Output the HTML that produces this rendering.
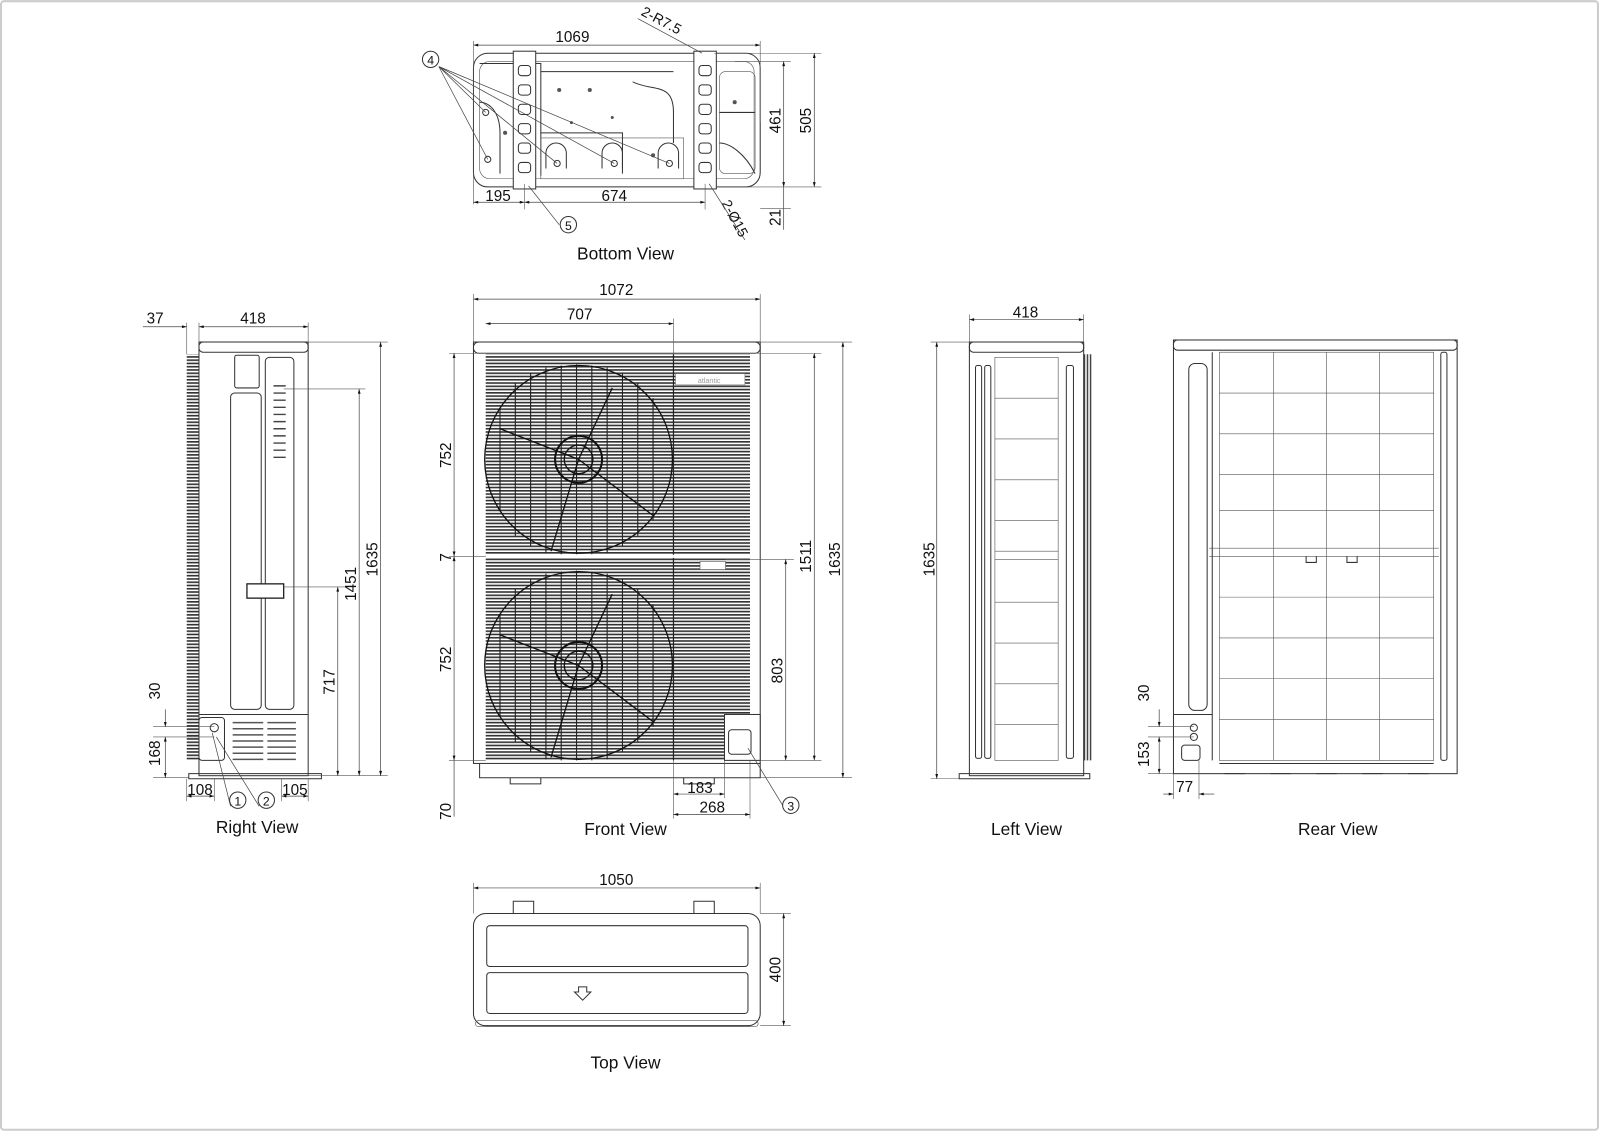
<!DOCTYPE html>
<html><head><meta charset="utf-8"><style>
html,body{margin:0;padding:0;background:#fff;}
svg{display:block;}
text{font-family:"Liberation Sans",sans-serif;fill:#111;}
.l{fill:none;stroke:#333;stroke-width:1;}
.t{fill:none;stroke:#555;stroke-width:.6;}
.d{fill:none;stroke:#444;stroke-width:.7;}
</style></head><body>
<svg width="1600" height="1132" viewBox="0 0 1568 1109" xmlns="http://www.w3.org/2000/svg">
<defs>
<pattern id="gr" width="4" height="3.2" patternUnits="userSpaceOnUse"><rect width="4" height="3.2" fill="#fff"/><rect width="4" height="1.6" fill="#333"/></pattern>
<pattern id="vs" width="3" height="4" patternUnits="userSpaceOnUse"><rect width="3" height="4" fill="#fff"/><rect width="1.5" height="4" fill="#444"/></pattern>
<marker id="a" viewBox="0 0 10 6" refX="10" refY="3" markerWidth="8" markerHeight="4" orient="auto-start-reverse"><path d="M0,0L10,3L0,6z" fill="#111"/></marker>
</defs>
<rect x="1" y="1" width="1565" height="1106" fill="none" stroke="#ccc" stroke-width="2" rx="3"/>

<!-- ===== BOTTOM VIEW ===== -->
<g>
<rect class="l" x="464" y="52" width="281" height="131" rx="14"/>
<rect class="t" x="470" y="60" width="269" height="115" rx="10"/>
<path class="l" d="M470,62 h60 v110 M530,70 h130 M530,70 v60 h80 v40 M620,80 c20,10 40,0 40,30 v30 M470,100 c10,0 20,10 20,30 v40 M705,110 h35 M705,140 c10,0 25,10 35,30"/>
<rect class="t" x="530" y="135" width="140" height="40"/>
<rect class="t" x="705" y="70" width="35" height="100" rx="6"/>
<g fill="#555"><circle cx="548" cy="88" r="2"/><circle cx="578" cy="88" r="2"/><circle cx="640" cy="152" r="2"/><circle cx="720" cy="100" r="2"/><circle cx="495" cy="130" r="2"/><circle cx="560" cy="120" r="1.5"/><circle cx="600" cy="115" r="1.5"/></g>
<rect x="503" y="50" width="22" height="135" fill="#fff" stroke="#333"/>
<rect x="680" y="50" width="22" height="135" fill="#fff" stroke="#333"/>
<g class="l">
<rect x="508" y="64" width="12" height="10" rx="3"/><rect x="508" y="83" width="12" height="10" rx="3"/><rect x="508" y="102" width="12" height="10" rx="3"/><rect x="508" y="121" width="12" height="10" rx="3"/><rect x="508" y="140" width="12" height="10" rx="3"/><rect x="508" y="159" width="12" height="10" rx="3"/>
<rect x="685" y="64" width="12" height="10" rx="3"/><rect x="685" y="83" width="12" height="10" rx="3"/><rect x="685" y="102" width="12" height="10" rx="3"/><rect x="685" y="121" width="12" height="10" rx="3"/><rect x="685" y="140" width="12" height="10" rx="3"/><rect x="685" y="159" width="12" height="10" rx="3"/>
<path d="M535,165 v-15 a10,10 0 0 1 20,0 v15 M590,165 v-15 a10,10 0 0 1 20,0 v15 M645,165 v-15 a10,10 0 0 1 20,0 v15"/>
<circle cx="478" cy="156" r="3"/><circle cx="546" cy="160" r="3"/><circle cx="602" cy="160" r="3"/><circle cx="656" cy="160" r="3"/><circle cx="476" cy="110" r="3"/>
</g>
<path class="d" d="M430,65 L476,110 M430,65 L478,156 M430,65 L546,160 M430,65 L602,160 M430,65 L656,160"/>
<circle cx="422" cy="58" r="8" fill="#fff" stroke="#333"/><text x="422" y="63" font-size="12" text-anchor="middle">4</text>
<circle cx="557" cy="220" r="8" fill="#fff" stroke="#333"/><text x="557" y="225" font-size="12" text-anchor="middle">5</text>
<path class="d" d="M548,220 L518,182"/>
<line class="d" x1="464" y1="44" x2="745" y2="44" marker-start="url(#a)" marker-end="url(#a)"/>
<line class="t" x1="464" y1="40" x2="464" y2="200"/><line class="t" x1="745" y1="40" x2="745" y2="120"/>
<text x="561" y="41" font-size="15" text-anchor="middle">1069</text>
<line class="d" x1="464" y1="198" x2="514" y2="198" marker-start="url(#a)" marker-end="url(#a)"/>
<line class="d" x1="514" y1="198" x2="691" y2="198" marker-start="url(#a)" marker-end="url(#a)"/>
<line class="t" x1="514" y1="180" x2="514" y2="205"/><line class="t" x1="691" y1="180" x2="691" y2="205"/>
<text x="488" y="197" font-size="15" text-anchor="middle">195</text>
<text x="602" y="197" font-size="15" text-anchor="middle">674</text>
<line class="t" x1="700" y1="52" x2="805" y2="52"/><line class="t" x1="720" y1="60" x2="775" y2="60"/><line class="t" x1="702" y1="183" x2="805" y2="183"/><line class="t" x1="745" y1="204" x2="775" y2="204"/>
<line class="d" x1="798" y1="52" x2="798" y2="183" marker-start="url(#a)" marker-end="url(#a)"/>
<line class="d" x1="768" y1="60" x2="768" y2="183" marker-start="url(#a)" marker-end="url(#a)"/>
<line class="d" x1="768" y1="183" x2="768" y2="225"/>
<text transform="translate(795,118) rotate(-90)" font-size="15" text-anchor="middle">505</text>
<text transform="translate(765,118) rotate(-90)" font-size="15" text-anchor="middle">461</text>
<text transform="translate(765,213) rotate(-90)" font-size="15" text-anchor="middle">21</text>
<text transform="translate(646,24) rotate(28)" font-size="14" text-anchor="middle">2-R7.5</text>
<path class="d" d="M625,18 L688,52"/>
<text transform="translate(716,216) rotate(62)" font-size="14" text-anchor="middle">2-Ø15</text>
<path class="d" d="M730,235 L695,180"/>
<text x="613" y="254" font-size="17" text-anchor="middle">Bottom View</text>
</g>

<!-- ===== FRONT VIEW ===== -->
<g>
<rect class="l" x="464" y="335" width="281" height="413"/>
<rect class="l" x="464" y="335" width="281" height="11" rx="5"/>
<rect x="476" y="347" width="259" height="398" fill="url(#gr)"/>
<g stroke="#222" stroke-width="1.1"><path d="M490,400v100M505,375v150M520,365v170M535,360v182M550,358v185M565,357v186M580,358v185M595,360v182M610,365v170M625,375v150M640,390v120M490,602v100M505,577v150M520,567v170M535,562v182M550,560v185M565,559v186M580,560v185M595,562v182M610,567v170M625,577v150M640,592v120"/></g>
<rect x="662" y="366" width="68" height="11" fill="#fff" stroke="#777" stroke-width=".6"/>
<text x="695" y="375" font-size="7" text-anchor="middle" style="fill:#999">atlantic</text>
<line x1="660" y1="347" x2="660" y2="745" stroke="#222" stroke-width="1.2"/>
<line x1="476" y1="545" x2="735" y2="545" stroke="#fff" stroke-width="3"/>
<rect x="686" y="550" width="25" height="8" fill="#fff" stroke="#555" stroke-width=".6"/>
<g fill="none" stroke="#111" stroke-width="1.3">
<circle cx="567" cy="450" r="92"/><circle cx="567" cy="652" r="92"/>
<circle cx="567" cy="450" r="23" stroke-width="2"/><circle cx="567" cy="652" r="23" stroke-width="2"/><circle cx="567" cy="450" r="14"/><circle cx="567" cy="652" r="14"/>
<path d="M567,450 L600,380 M567,450 L490,420 M567,450 L540,540 M567,450 L640,505"/>
<path d="M567,652 L600,582 M567,652 L490,622 M567,652 L540,742 M567,652 L640,707"/>
</g>
<rect x="710" y="700" width="35" height="45" fill="#fff" stroke="#333"/>
<rect x="714" y="715" width="22" height="24" fill="none" stroke="#333" rx="3"/>
<path class="l" d="M470,748 v14 h275 v-14 M500,762 v6 h30 v-6 M670,762 v6 h30 v-6"/>
<line class="d" x1="464" y1="293" x2="745" y2="293" marker-start="url(#a)" marker-end="url(#a)"/>
<line class="t" x1="464" y1="288" x2="464" y2="335"/><line class="t" x1="745" y1="288" x2="745" y2="335"/>
<text x="604" y="289" font-size="15" text-anchor="middle">1072</text>
<line class="d" x1="476" y1="317" x2="660" y2="317" marker-start="url(#a)" marker-end="url(#a)"/>
<line class="t" x1="660" y1="312" x2="660" y2="347"/>
<text x="568" y="313" font-size="15" text-anchor="middle">707</text>
<line class="t" x1="440" y1="346" x2="476" y2="346"/><line class="t" x1="440" y1="545" x2="476" y2="545"/><line class="t" x1="440" y1="745" x2="476" y2="745"/>
<line class="d" x1="445" y1="346" x2="445" y2="545" marker-start="url(#a)" marker-end="url(#a)"/>
<line class="d" x1="445" y1="545" x2="445" y2="745" marker-start="url(#a)" marker-end="url(#a)"/>
<line class="d" x1="445" y1="745" x2="445" y2="800"/>
<text transform="translate(442,446) rotate(-90)" font-size="15" text-anchor="middle">752</text>
<text transform="translate(442,546) rotate(-90)" font-size="15" text-anchor="middle">7</text>
<text transform="translate(442,646) rotate(-90)" font-size="15" text-anchor="middle">752</text>
<text transform="translate(442,795) rotate(-90)" font-size="15" text-anchor="middle">70</text>
<line class="t" x1="745" y1="335" x2="835" y2="335"/><line class="t" x1="735" y1="346" x2="805" y2="346"/><line class="t" x1="711" y1="548" x2="778" y2="548"/><line class="t" x1="745" y1="745" x2="805" y2="745"/><line class="t" x1="745" y1="762" x2="835" y2="762"/>
<line class="d" x1="826" y1="335" x2="826" y2="762" marker-start="url(#a)" marker-end="url(#a)"/>
<line class="d" x1="798" y1="346" x2="798" y2="745" marker-start="url(#a)" marker-end="url(#a)"/>
<line class="d" x1="770" y1="548" x2="770" y2="745" marker-start="url(#a)" marker-end="url(#a)"/>
<text transform="translate(823,548) rotate(-90)" font-size="15" text-anchor="middle">1635</text>
<text transform="translate(795,545) rotate(-90)" font-size="15" text-anchor="middle">1511</text>
<text transform="translate(767,657) rotate(-90)" font-size="15" text-anchor="middle">803</text>
<line class="t" x1="660" y1="745" x2="660" y2="802"/><line class="t" x1="710" y1="745" x2="710" y2="782"/><line class="t" x1="735" y1="745" x2="735" y2="802"/>
<line class="d" x1="660" y1="778" x2="710" y2="778" marker-start="url(#a)" marker-end="url(#a)"/>
<line class="d" x1="660" y1="798" x2="735" y2="798" marker-start="url(#a)" marker-end="url(#a)"/>
<text x="686" y="777" font-size="15" text-anchor="middle">183</text>
<text x="698" y="796" font-size="15" text-anchor="middle">268</text>
<path class="d" d="M767,789 L733,733"/>
<circle cx="775" cy="789" r="8" fill="#fff" stroke="#333"/><text x="775" y="794" font-size="12" text-anchor="middle">3</text>
<text x="613" y="818" font-size="17" text-anchor="middle">Front View</text>
</g>

<!-- ===== RIGHT VIEW ===== -->
<g>
<rect x="183" y="347" width="12" height="398" fill="url(#gr)"/>
<rect class="l" x="195" y="335" width="107" height="425"/>
<rect class="l" x="195" y="335" width="107" height="10" rx="4"/>
<rect class="l" x="226" y="385" width="30" height="310" rx="4"/>
<rect class="l" x="260" y="350" width="28" height="345" rx="4"/>
<rect class="l" x="230" y="348" width="24" height="32" rx="2"/>
<g stroke="#444" stroke-width="1.4"><path d="M268,378h12M268,385h12M268,392h12M268,399h12M268,406h12M268,413h12M268,420h12M268,427h12M268,434h12M268,441h12M268,448h12"/></g>
<rect x="242" y="572" width="36" height="14" fill="#fff" stroke="#222" stroke-width="1.3"/>
<line class="l" x1="195" y1="700" x2="302" y2="700"/>
<g stroke="#555" stroke-width="1.5"><path d="M228,708h30M262,708h28M228,714h30M262,714h28M228,720h30M262,720h28M228,726h30M262,726h28M228,732h30M262,732h28M228,738h30M262,738h28M228,744h30M262,744h28"/></g>
<rect class="l" x="195" y="703" width="25" height="42" rx="3"/>
<circle class="l" cx="210" cy="713" r="4"/>
<path class="l" d="M185,758 h130 v5 h-130 z"/>
<line class="d" x1="195" y1="320" x2="302" y2="320" marker-start="url(#a)" marker-end="url(#a)"/>
<line class="d" x1="140" y1="320" x2="183" y2="320" marker-end="url(#a)"/>
<line class="t" x1="183" y1="316" x2="183" y2="347"/><line class="t" x1="195" y1="316" x2="195" y2="335"/><line class="t" x1="302" y1="316" x2="302" y2="335"/>
<text x="248" y="317" font-size="15" text-anchor="middle">418</text>
<text x="152" y="317" font-size="15" text-anchor="middle">37</text>
<line class="t" x1="302" y1="335" x2="380" y2="335"/><line class="t" x1="278" y1="381" x2="358" y2="381"/><line class="t" x1="278" y1="575" x2="338" y2="575"/><line class="t" x1="302" y1="760" x2="380" y2="760"/>
<line class="d" x1="373" y1="335" x2="373" y2="760" marker-start="url(#a)" marker-end="url(#a)"/>
<line class="d" x1="352" y1="381" x2="352" y2="760" marker-start="url(#a)" marker-end="url(#a)"/>
<line class="d" x1="331" y1="575" x2="331" y2="760" marker-start="url(#a)" marker-end="url(#a)"/>
<text transform="translate(370,548) rotate(-90)" font-size="15" text-anchor="middle">1635</text>
<text transform="translate(349,572) rotate(-90)" font-size="15" text-anchor="middle">1451</text>
<text transform="translate(328,668) rotate(-90)" font-size="15" text-anchor="middle">717</text>
<line class="t" x1="150" y1="712" x2="210" y2="712"/><line class="t" x1="150" y1="722" x2="210" y2="722"/><line class="t" x1="150" y1="762" x2="185" y2="762"/>
<line class="d" x1="162" y1="695" x2="162" y2="712" marker-end="url(#a)"/>
<line class="d" x1="162" y1="722" x2="162" y2="762" marker-start="url(#a)" marker-end="url(#a)"/>
<text transform="translate(157,677) rotate(-90)" font-size="15" text-anchor="middle">30</text>
<text transform="translate(157,738) rotate(-90)" font-size="15" text-anchor="middle">168</text>
<line class="t" x1="183" y1="763" x2="183" y2="785"/><line class="t" x1="210" y1="763" x2="210" y2="785"/><line class="t" x1="276" y1="763" x2="276" y2="785"/><line class="t" x1="302" y1="763" x2="302" y2="785"/>
<line class="d" x1="183" y1="780" x2="210" y2="780" marker-start="url(#a)" marker-end="url(#a)"/>
<line class="d" x1="276" y1="780" x2="302" y2="780" marker-start="url(#a)" marker-end="url(#a)"/>
<text x="196" y="779" font-size="15" text-anchor="middle">108</text>
<text x="289" y="779" font-size="15" text-anchor="middle">105</text>
<path class="d" d="M226,790 L208,718 M254,790 L212,722"/>
<circle cx="233" cy="784" r="8" fill="#fff" stroke="#333"/><text x="233" y="789" font-size="12" text-anchor="middle">1</text>
<circle cx="261" cy="784" r="8" fill="#fff" stroke="#333"/><text x="261" y="789" font-size="12" text-anchor="middle">2</text>
<text x="252" y="816" font-size="17" text-anchor="middle">Right View</text>
</g>

<!-- ===== LEFT VIEW ===== -->
<g>
<rect x="1062" y="347" width="8" height="398" fill="url(#vs)"/>
<rect class="l" x="950" y="335" width="112" height="425"/>
<rect class="l" x="950" y="335" width="112" height="10" rx="4"/>
<rect class="t" x="975" y="350" width="62" height="395"/>
<g class="t"><path d="M975,390h62M975,430h62M975,470h62M975,510h62M975,540h62M975,548h62M975,590h62M975,630h62M975,670h62M975,710h62"/></g>
<rect class="l" x="956" y="358" width="6" height="385" rx="2"/>
<rect class="l" x="965" y="358" width="6" height="385" rx="2"/>
<rect class="l" x="1045" y="358" width="7" height="385" rx="2"/>
<path class="l" d="M940,758 h128 v5 h-128 z"/>
<line class="d" x1="950" y1="313" x2="1062" y2="313" marker-start="url(#a)" marker-end="url(#a)"/>
<line class="t" x1="950" y1="308" x2="950" y2="335"/><line class="t" x1="1062" y1="308" x2="1062" y2="335"/>
<text x="1005" y="311" font-size="15" text-anchor="middle">418</text>
<line class="t" x1="912" y1="335" x2="950" y2="335"/><line class="t" x1="912" y1="763" x2="940" y2="763"/>
<line class="d" x1="918" y1="335" x2="918" y2="763" marker-start="url(#a)" marker-end="url(#a)"/>
<text transform="translate(916,548) rotate(-90)" font-size="15" text-anchor="middle">1635</text>
<text x="1006" y="818" font-size="17" text-anchor="middle">Left View</text>
</g>

<!-- ===== REAR VIEW ===== -->
<g>
<rect class="l" x="1150" y="333" width="278" height="425"/>
<rect class="l" x="1150" y="333" width="278" height="10" rx="4"/>
<rect class="t" x="1195" y="345" width="210" height="400"/>
<g class="t"><path d="M1248,345v400M1300,345v400M1352,345v400M1195,385h210M1195,425h210M1195,465h210M1195,500h210M1185,537h225M1185,545h225M1195,585h210M1195,625h210M1195,665h210M1195,705h210"/></g>
<rect class="l" x="1165" y="356" width="18" height="340" rx="6"/>
<line class="l" x1="1188" y1="345" x2="1188" y2="745"/>
<line class="l" x1="1150" y1="700" x2="1188" y2="700"/>
<circle class="l" cx="1170" cy="713" r="3.5"/><circle class="l" cx="1170" cy="722" r="3.5"/>
<rect class="l" x="1158" y="730" width="18" height="15" rx="3"/>
<rect class="l" x="1412" y="345" width="6" height="400" rx="2"/>
<g class="l"><path d="M1280,545v6h10v-6M1320,545v6h10v-6"/></g>
<g class="l"><path d="M1195,748h210M1200,758h20M1245,758h20M1290,758h20M1335,758h20M1380,758h20"/></g>
<line class="t" x1="1125" y1="712" x2="1170" y2="712"/><line class="t" x1="1125" y1="722" x2="1170" y2="722"/><line class="t" x1="1125" y1="758" x2="1150" y2="758"/>
<line class="d" x1="1136" y1="695" x2="1136" y2="712" marker-end="url(#a)"/>
<line class="d" x1="1136" y1="722" x2="1136" y2="758" marker-start="url(#a)" marker-end="url(#a)"/>
<text transform="translate(1126,679) rotate(-90)" font-size="15" text-anchor="middle">30</text>
<text transform="translate(1126,739) rotate(-90)" font-size="15" text-anchor="middle">153</text>
<line class="t" x1="1150" y1="758" x2="1150" y2="783"/><line class="t" x1="1175" y1="745" x2="1175" y2="783"/>
<line class="d" x1="1140" y1="778" x2="1150" y2="778" marker-end="url(#a)"/>
<line class="d" x1="1190" y1="778" x2="1175" y2="778" marker-end="url(#a)"/>
<text x="1161" y="776" font-size="15" text-anchor="middle">77</text>
<text x="1311" y="818" font-size="17" text-anchor="middle">Rear View</text>
</g>

<!-- ===== TOP VIEW ===== -->
<g>
<rect class="l" x="464" y="895" width="281" height="110" rx="12"/>
<rect class="t" x="466" y="1000" width="277" height="6" rx="3"/>
<rect class="l" x="477" y="907" width="256" height="40" rx="3"/>
<rect class="l" x="477" y="953" width="256" height="40" rx="3"/>
<path class="l" d="M503,895 v-12 h20 v12 M680,895 v-12 h20 v12"/>
<path class="l" d="M567,967 h8 v5 h4 l-8,8 l-8,-8 h4 z"/>
<line class="d" x1="464" y1="870" x2="745" y2="870" marker-start="url(#a)" marker-end="url(#a)"/>
<line class="t" x1="464" y1="865" x2="464" y2="895"/><line class="t" x1="745" y1="865" x2="745" y2="895"/>
<text x="604" y="867" font-size="15" text-anchor="middle">1050</text>
<line class="t" x1="745" y1="895" x2="775" y2="895"/><line class="t" x1="745" y1="1005" x2="775" y2="1005"/>
<line class="d" x1="768" y1="895" x2="768" y2="1005" marker-start="url(#a)" marker-end="url(#a)"/>
<text transform="translate(765,950) rotate(-90)" font-size="15" text-anchor="middle">400</text>
<text x="613" y="1047" font-size="17" text-anchor="middle">Top View</text>
</g>
</svg>
</body></html>
